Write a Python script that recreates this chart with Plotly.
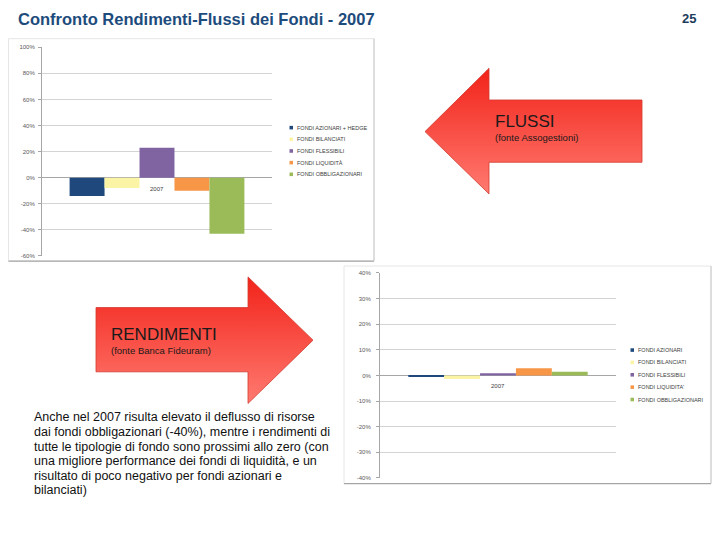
import plotly.graph_objects as go

# ---------------- data ----------------
CATEGORY = ["2007"]

FLUSSI_SERIES = ["FONDI AZIONARI + HEDGE", "FONDI BILANCIATI", "FONDI FLESSIBILI",
                 "FONDI LIQUIDITÀ", "FONDI OBBLIGAZIONARI"]
FLUSSI_VALUES = [-14, -8, 23, -10, -43]          # % flows 2007 (Assogestioni)

REND_SERIES = ["FONDI AZIONARI", "FONDI BILANCIATI", "FONDI FLESSIBILI",
               "FONDI LIQUIDITA'", "FONDI OBBLIGAZIONARI"]
REND_VALUES = [-0.6, -1.4, 0.9, 2.8, 1.4]         # % returns 2007 (Banca Fideuram)

FLUSSI_TICKS = [100, 80, 60, 40, 20, 0, -20, -40, -60]
REND_TICKS = [40, 30, 20, 10, 0, -10, -20, -30, -40]

SERIES_COLORS = ["#1f497d", "#fbf4a4", "#8064a2", "#f79646", "#9bbb59"]

TITLE = "Confronto Rendimenti-Flussi dei Fondi - 2007"
PAGE_NO = "25"
PARAGRAPH_LINES = ["Anche nel 2007 risulta elevato il deflusso di risorse",
                   "dai fondi obbligazionari (-40%), mentre i rendimenti di",
                   "tutte le tipologie di fondo sono prossimi allo zero (con",
                   "una migliore performance dei fondi di liquidità, e un",
                   "risultato di poco negativo per fondi azionari e",
                   "bilanciati)"]

# ---------------- layout helpers (page pixel -> paper) ----------------
# the page body has an 8px default margin, so the figure is shrunk to fit the window
PAGE_W, PAGE_H, OFF = 720, 540, 8
W, H = PAGE_W - 2 * OFF, PAGE_H - 2 * OFF
def px(x): return (x - OFF) / W
def py(y): return 1 - (y - OFF) / H

FONT = "Liberation Sans, Arial, sans-serif"
GRID = "#d4d4d4"
AXIS = "#a6a6a6"
TICKC = "#595959"

fig = go.Figure()

# bars - chart 1 (flussi)
for name, val, col in zip(FLUSSI_SERIES, FLUSSI_VALUES, SERIES_COLORS):
    fig.add_trace(go.Bar(x=CATEGORY, y=[val], name=name, marker_color=col,
                         marker_line_width=0, xaxis="x", yaxis="y", showlegend=False))
# bars - chart 2 (rendimenti)
for name, val, col in zip(REND_SERIES, REND_VALUES, SERIES_COLORS):
    fig.add_trace(go.Bar(x=CATEGORY, y=[val], name=name, marker_color=col,
                         marker_line_width=0, xaxis="x2", yaxis="y2", showlegend=False))

# arrows (decorative, page pixel coordinates on a hidden full-page axis)
ARROW_LEFT = dict(x=[425, 489, 489, 642, 642, 489, 489, 425],
                  y=[130, 66, 98, 98, 161, 161, 193, 130])
ARROW_RIGHT = dict(x=[96, 248, 248, 313, 248, 248, 96, 96],
                   y=[308, 308, 277, 341, 405, 373, 373, 308])
for ar in (ARROW_LEFT, ARROW_RIGHT):
    fig.add_trace(go.Scatter(x=ar["x"], y=ar["y"], mode="lines", fill="toself",
                             line=dict(color="#d23a2e", width=0.8),
                             fillgradient=dict(type="vertical",
                                               colorscale=[[0, "#ff7a70"], [1, "#f2231a"]]),
                             xaxis="x3", yaxis="y3", showlegend=False, hoverinfo="skip"))

fig.update_layout(
    width=W, height=H, margin=dict(l=0, r=0, t=0, b=0),
    paper_bgcolor="white", plot_bgcolor="rgba(0,0,0,0)",
    barmode="group", bargap=0.24,
    font=dict(family=FONT),
    xaxis=dict(domain=[px(42), px(272)], anchor="y", type="category", range=[-0.5, 0.5],
               showticklabels=False, showgrid=False, zeroline=False),
    yaxis=dict(domain=[py(255.7), py(44.7)], anchor="x", range=[-60, 100],
               tickvals=FLUSSI_TICKS, ticktext=[f"{v}%" for v in FLUSSI_TICKS],
               tickfont=dict(size=6, color=TICKC), showgrid=True, gridcolor=GRID,
               gridwidth=1, zeroline=True, zerolinecolor=AXIS, zerolinewidth=1,
               showline=True, linecolor=AXIS, linewidth=1, ticks="outside",
               ticklen=3, tickcolor=AXIS, ticklabelstandoff=2),
    xaxis2=dict(domain=[px(380), px(616)], anchor="y2", type="category", range=[-0.5, 0.5],
                showticklabels=False, showgrid=False, zeroline=False),
    yaxis2=dict(domain=[py(480.3), py(273)], anchor="x2", range=[-40, 40],
                tickvals=REND_TICKS, ticktext=[f"{v}%" for v in REND_TICKS],
                tickfont=dict(size=6, color=TICKC), showgrid=True, gridcolor=GRID,
                gridwidth=1, zeroline=True, zerolinecolor=AXIS, zerolinewidth=1,
                showline=True, linecolor=AXIS, linewidth=1, ticks="outside",
                ticklen=3, tickcolor=AXIS, ticklabelstandoff=4),
    xaxis3=dict(domain=[0, 1], anchor="y3", range=[OFF, OFF + W], visible=False),
    yaxis3=dict(domain=[0, 1], anchor="x3", range=[OFF + H, OFF], visible=False),
)

shapes = []
# chart frames
for (x0, y0, x1, y1) in [(8.5, 36, 374, 261), (344, 266, 711, 486)]:
    shapes.append(dict(type="rect", xref="paper", yref="paper", x0=px(x0), x1=px(x1),
                       y0=py(y1), y1=py(y0), line=dict(color="#e6e6e6", width=1), layer="below"))
    shapes.append(dict(type="line", xref="paper", yref="paper", x0=px(x0), x1=px(x1),
                       y0=py(y1), y1=py(y1), line=dict(color="#a6a6a6", width=1.2)))
    shapes.append(dict(type="line", xref="paper", yref="paper", x0=px(x1), x1=px(x1),
                       y0=py(y1), y1=py(y0), line=dict(color="#c8c8c8", width=1)))

annotations = []
# manual legends
def add_legend(names, colors, x_sq, y_first, step):
    for i, (n, c) in enumerate(zip(names, colors)):
        yc = y_first + i * step
        shapes.append(dict(type="rect", xref="paper", yref="paper",
                           x0=px(x_sq), x1=px(x_sq + 3.5), y0=py(yc + 1.8), y1=py(yc - 1.8),
                           fillcolor=c, line=dict(width=0)))
        annotations.append(dict(xref="paper", yref="paper", x=px(x_sq + 5), y=py(yc),
                                xanchor="left", yanchor="middle", text=n, showarrow=False,
                                font=dict(size=5.5, color="#404040", family=FONT)))

add_legend(FLUSSI_SERIES, SERIES_COLORS, 289.5, 126, 11.8)
add_legend(REND_SERIES, SERIES_COLORS, 630.5, 351, 12.5)

# category labels under the zero line (category index 0 = "2007")
for xr, yr in (("x", "y"), ("x2", "y2")):
    annotations.append(dict(xref=xr, yref=yr, x=0, y=0, yanchor="top", yshift=-6,
                            text=CATEGORY[0], showarrow=False,
                            font=dict(size=6, color="#404040")))

# title and page number
annotations.append(dict(xref="paper", yref="paper", x=px(16), y=py(16), xanchor="left",
                        yanchor="middle", text=f"<b>{TITLE}</b>", showarrow=False,
                        font=dict(size=16.5, color="#1d4b7c", family=FONT)))
annotations.append(dict(xref="paper", yref="paper", x=px(698), y=py(16), xanchor="right",
                        yanchor="middle", text=f"<b>{PAGE_NO}</b>", showarrow=False,
                        font=dict(size=13, color="#1d3d5c", family=FONT)))

# arrow labels
annotations += [
    dict(xref="x3", yref="y3", x=493, y=120, xanchor="left", yanchor="middle", text="FLUSSI",
         showarrow=False, font=dict(size=17, color="#1a1a1a", family=FONT)),
    dict(xref="x3", yref="y3", x=493, y=136, xanchor="left", yanchor="middle",
         text="(fonte Assogestioni)", showarrow=False,
         font=dict(size=9.5, color="#1a1a1a", family=FONT)),
    dict(xref="x3", yref="y3", x=109, y=335, xanchor="left", yanchor="middle", text="RENDIMENTI",
         showarrow=False, font=dict(size=17, color="#1a1a1a", family=FONT)),
    dict(xref="x3", yref="y3", x=109, y=351, xanchor="left", yanchor="middle",
         text="(fonte Banca Fideuram)", showarrow=False,
         font=dict(size=9.5, color="#1a1a1a", family=FONT)),
]

# paragraph, one annotation per line for exact leading
for i, line in enumerate(PARAGRAPH_LINES):
    annotations.append(dict(xref="x3", yref="y3", x=32, y=419 + i * 14.8, xanchor="left",
                            yanchor="middle", align="left", text=line, showarrow=False,
                            font=dict(size=12.5, color="#111111", family=FONT)))

fig.update_layout(shapes=shapes, annotations=annotations)
fig.write_html("out.html")
